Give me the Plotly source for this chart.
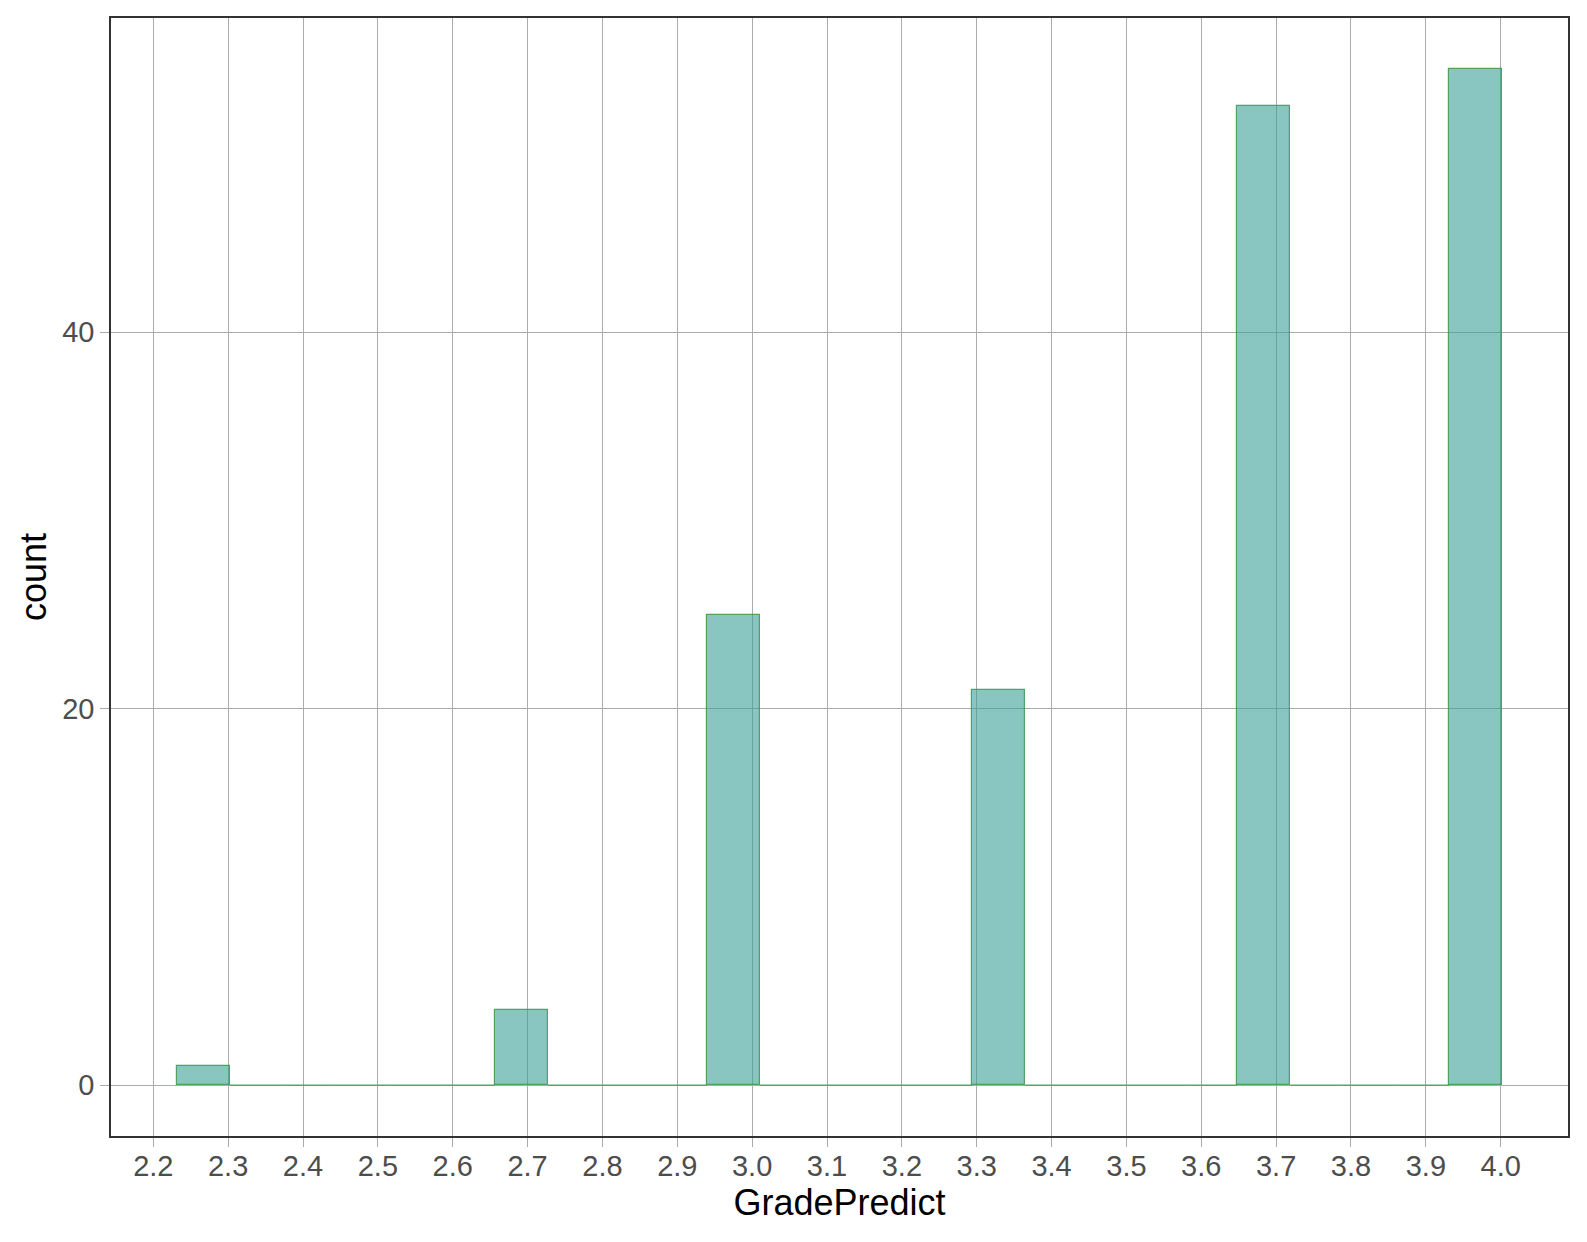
import numpy as np
import plotly.graph_objects as go

# Data: predicted grades and how many times each occurs
grades = [2.3, 2.7, 3.0, 3.3, 3.7, 4.0]
grade_counts = [1, 4, 25, 21, 52, 54]
n_bins = 25

x_ticks = [2.2, 2.3, 2.4, 2.5, 2.6, 2.7, 2.8, 2.9, 3.0, 3.1, 3.2, 3.3, 3.4, 3.5, 3.6, 3.7, 3.8, 3.9, 4.0]
x_tick_labels = ["2.2", "2.3", "2.4", "2.5", "2.6", "2.7", "2.8", "2.9", "3.0", "3.1", "3.2",
                 "3.3", "3.4", "3.5", "3.6", "3.7", "3.8", "3.9", "4.0"]
y_ticks = [0, 20, 40]
y_tick_labels = ["0", "20", "40"]

# ggplot2-style binning (bins = 25)
lo, hi = min(grades), max(grades)
width = (hi - lo) / (n_bins - 1)
boundary = width / 2
shift = np.floor((lo - boundary) / width)
origin = boundary + shift * width
edges = origin + width * np.arange(n_bins + 1)
counts = np.zeros(n_bins)
for g, c in zip(grades, grade_counts):
    idx = int(np.clip(np.searchsorted(edges, g, side="left") - 1, 0, n_bins - 1))
    counts[idx] += c
centers = (edges[:-1] + edges[1:]) / 2

FILL = "rgba(58,158,152,0.6)"
EDGE = "rgba(60,150,75,0.85)"

fig = go.Figure()

# zero-count bins drawn as flat outlines along 0
zx, zy = [], []
for i in range(n_bins):
    if counts[i] == 0:
        zx += [edges[i], edges[i + 1], None]
        zy += [0, 0, None]
fig.add_trace(go.Scatter(x=zx, y=zy, mode="lines", line=dict(color=EDGE, width=1.2),
                         hoverinfo="skip", showlegend=False))

nz = counts > 0
fig.add_trace(go.Bar(x=centers[nz], y=counts[nz], width=width,
                     marker=dict(color=FILL, line=dict(color=EDGE, width=1.2)),
                     showlegend=False))

axis_common = dict(
    showgrid=True, gridcolor="#ababab", gridwidth=1.4, automargin=False,
    zeroline=False, showline=True, linecolor="#333333", linewidth=1.6, mirror=True,
    ticks="outside", ticklen=9, tickwidth=1.4, tickcolor="#ababab",
    tickfont=dict(family="Liberation Sans, Arial", size=29, color="#4d4d4d"),
)

fig.update_layout(
    width=1579, height=1234,
    margin=dict(l=103, r=19, t=10, b=106),
    paper_bgcolor="white", plot_bgcolor="white",
    bargap=0,
    xaxis=dict(axis_common, range=[2.1435, 4.0899], tickmode="array",
               tickvals=x_ticks, ticktext=x_tick_labels, ticklabelstandoff=-6,
               title=dict(text="GradePredict", standoff=9,
                          font=dict(family="Liberation Sans, Arial", size=36, color="black"))),
    yaxis=dict(axis_common, range=[-2.7, 56.7], tickmode="array",
               tickvals=y_ticks, ticktext=y_tick_labels,
               title=dict(text="count", standoff=5,
                          font=dict(family="Liberation Sans, Arial", size=36, color="black"))),
)

fig.write_html("out.html")
